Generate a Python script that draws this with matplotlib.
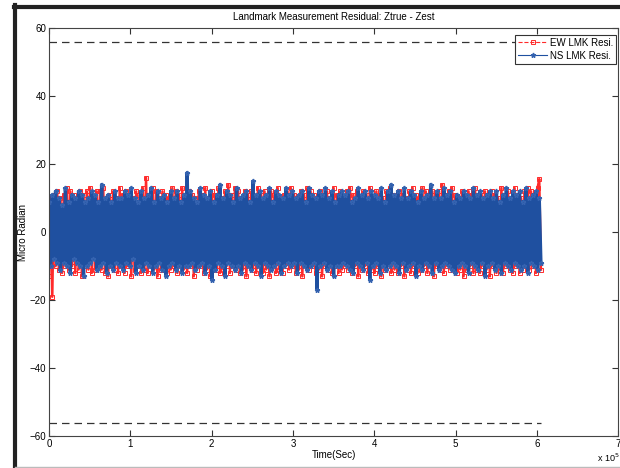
import numpy as np
import matplotlib.pyplot as plt
from matplotlib.lines import Line2D

# residual samples (micro radian)
ns_resi = [9, -10, 11, -8, 12, -9, 10, -11, 8, -9, 13, -10, 9, -12, 11,
           -8, 10, -9, 12, -10, 11, -13, 9, -10, 10, -9, 12, -8, 11, -11,
           9, -10, 14, -9, 10, -12, 11, -10, 9, -11, 12, -9, 10, -10, 10,
           -11, 12, -9, 11, -10, 13, -8, 10, -12, 9, -10, 12, -11, 10, -9,
           11, -10, 13, -12, 9, -10, 12, -9, 10, -11, 11, -13, 9, -10, 12,
           -9, 10, -11, 12, -10, 9, -12, 11, -10, 17.5, -10, 12, -9, 10, -11,
           9, -10, 13, -9, 11, -12, 10, -10, 12, -14, 9, -11, 11, -9, 14,
           -10, 10, -13, 12, -9, 11, -10, 9, -11, 13, -10, 10, -12, 11, -9,
           12, -10, 9, -11, 15, -9, 11, -10, 12, -13, 10, -9, 11, -10, 13,
           -11, 9, -10, 12, -9, 11, -12, 10, -10, 13, -9, 11, -10, 12, -9,
           10, -12, 11, -9, 12, -10, 9, -11, 13, -10, 11, -9, 10, -17, 12,
           -10, 11, -9, 13, -11, 10, -10, 12, -13, 9, -10, 11, -10, 12, -9,
           11, -10, 12, -11, 9, -12, 10, -9, 13, -10, 11, -11, 12, -9, 10,
           -14, 12, -10, 11, -9, 10, -12, 13, -10, 9, -11, 12, -10, 14, -9,
           11, -10, 12, -12, 10, -9, 13, -11, 10, -10, 12, -9, 11, -13, 9,
           -10, 12, -11, 10, -9, 11, -10, 14, -12, 10, -9, 12, -11, 10, -10,
           13, -9, 11, -10, 12, -11, 9, -12, 11, -10, 10, -9, 12, -10, 11,
           -12, 10, -9, 13, -10, 11, -11, 12, -9, 10, -13, 11, -10, 12, -9,
           10, -11, 12, -10, 9, -12, 11, -9, 13, -10, 10, -11, 12, -9, 11,
           -10, 12, -11, 9, -10, 13, -12, 10, -9, 11, -10, 12, -11, 10, -9]
ew_resi = [-13, 10, -19, 11, -10, 12, -11, 10, -12, 11, -10, 13, -11, 12, -10,
           11, -12, 10, -11, 12, -13, 11, -10, 12, -11, 13, -12, 10, -11, 12,
           -10, 12, -11, 13, -12, 10, -13, 11, -10, 12, -11, 10, -12, 13, -10,
           11, -12, 12, -10, 11, -13, 10, -11, 12, -10, 11, -12, 13, -11, 16,
           -12, 11, -10, 13, -11, 12, -13, 10, -11, 12, -10, 11, -12, 10, -11,
           13, -10, 12, -12, 11, -10, 13, -11, 10, -12, 12, -10, 11, -13, 10,
           -11, 12, -10, 11, -12, 13, -11, 10, -13, 12, -10, 11, -11, 13, -12,
           10, -11, 12, -10, 14, -12, 11, -10, 13, -11, 12, -12, 10, -11, 12,
           -13, 11, -10, 12, -11, 10, -12, 13, -10, 11, -12, 12, -11, 10, -13,
           12, -10, 11, -12, 13, -11, 10, -12, 11, -10, 12, -11, 13, -10, 11,
           -12, 10, -11, 12, -13, 11, -10, 13, -11, 12, -10, 11, -12, 10, -11,
           12, -13, 11, -10, 12, -11, 10, -12, 13, -10, 11, -12, 12, -11, 10,
           -10, 12, -11, 13, -12, 11, -10, 12, -13, 10, -11, 12, -10, 11, -12,
           13, -11, 10, -12, 12, -10, 11, -13, 10, -11, 12, -10, 13, -12, 11,
           -11, 10, -12, 12, -10, 11, -13, 10, -11, 12, -12, 13, -10, 11, -12,
           10, -11, 13, -10, 12, -12, 11, -10, 12, -13, 11, -10, 12, -11, 14,
           -12, 11, -10, 12, -11, 13, -10, 11, -12, 10, -11, 12, -13, 10, -11,
           12, -10, 11, -12, 13, -11, 10, -12, 11, -10, 12, -11, 10, -13, 12,
           -10, 11, -12, 10, -11, 13, -12, 11, -10, 12, -11, 10, -12, 13, -10,
           11, -12, 10, -11, 12, -10, 13, -11, 12, -10, 11, -12, 13, 15.6, -11]
t_end = 6.05e5
t = np.linspace(0, t_end, len(ns_resi))
bound = 56

plt.rcParams['font.family'] = ['Liberation Sans', 'DejaVu Sans']
fig = plt.figure(figsize=(6.2, 4.68), dpi=100)
ax = fig.add_axes([0.079, 0.068, 0.918, 0.872])

ax.plot(t, ew_resi, color='#ff2a2a', ls='-', lw=1.8, marker='s', ms=3.5,
        mfc='none', mec='#ff2a2a', mew=0.7, label='EW LMK Resi.')
ax.plot(t, ns_resi, color='#1f50a0', ls='-', lw=2.4, marker='*', ms=3.5,
        mec='#3563b0', label='NS LMK Resi.')
ax.plot([0, t_end], [bound, bound], color='#333333', ls=(0, (6, 4)), lw=0.9)
ax.plot([0, t_end], [-bound, -bound], color='#333333', ls=(0, (6, 4)), lw=0.9)

ax.set_xlim(0, 7e5)
ax.set_ylim(-60, 60)
ax.set_xticks(np.arange(0, 8) * 1e5)
ax.set_xticklabels([str(i) for i in range(8)])
ax.set_yticks(np.arange(-60, 61, 20))
ax.tick_params(direction='in', top=True, right=True, labelsize=7, length=4,
               width=0.8, color='#333333', pad=2)
for s in ax.spines.values():
    s.set_color('#444444')
    s.set_linewidth(0.8)
ax.set_title('Landmark Measurement Residual: Ztrue - Zest', fontsize=7, pad=6)
ax.set_xlabel('Time(Sec)', fontsize=7, labelpad=1)
ax.set_ylabel('Micro Radian', fontsize=7, labelpad=1)
fig.text(0.963, 0.013, r'x 10$^5$', fontsize=6.5)

leg = ax.legend(loc='upper right', bbox_to_anchor=(1.0, 0.988), fontsize=7,
                fancybox=False, edgecolor='#333333', framealpha=1,
                handlelength=3, borderpad=0.3, labelspacing=0.3,
                handletextpad=0.3, borderaxespad=0.2)
leg.get_frame().set_linewidth(0.8)
leg_lines = leg.get_lines()
leg_lines[0].set_linestyle('--')
for h in leg_lines:
    h.set_linewidth(0.8)

# window frame of the screenshot
fig.add_artist(Line2D([0.024, 0.024], [0, 0.99], color='#222222', lw=3,
                      transform=fig.transFigure))
fig.add_artist(Line2D([0.022, 1.0], [0.986, 0.986], color='#222222', lw=3,
                      transform=fig.transFigure))
fig.add_artist(Line2D([0.024, 1.0], [0.003, 0.003], color='#bbbbbb', lw=1,
                      transform=fig.transFigure))

fig.savefig('out.png', dpi=100)
